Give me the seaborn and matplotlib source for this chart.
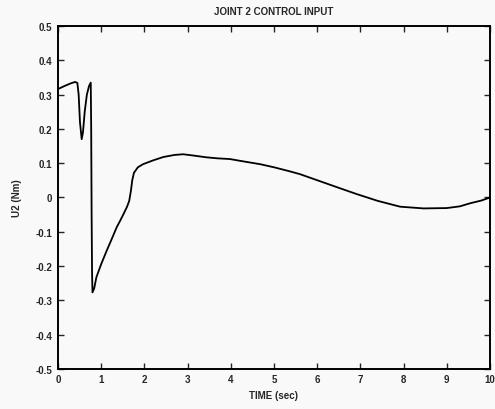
import numpy as np
import pandas as pd
import matplotlib
matplotlib.use("Agg")
import matplotlib.pyplot as plt
import seaborn as sns

# joint 2 control input
time_s = [0.0, 0.15, 0.30, 0.40, 0.45, 0.48, 0.51, 0.55, 0.58, 0.62, 0.67, 0.72, 0.76,
          0.77, 0.78, 0.79, 0.80, 0.84, 0.89, 1.00, 1.13, 1.25, 1.36, 1.44, 1.52, 1.60,
          1.65, 1.69, 1.72, 1.76, 1.85, 1.97, 2.20, 2.44, 2.70, 2.90, 3.15, 3.44, 3.70,
          3.98, 4.30, 4.68, 5.00, 5.37, 5.60, 6.14, 6.50, 6.91, 7.40, 7.92, 8.46, 9.00,
          9.30, 9.54, 9.80, 10.0]
u2_nm = [0.316, 0.325, 0.333, 0.337, 0.334, 0.30, 0.22, 0.170, 0.19, 0.25, 0.30, 0.325, 0.335,
         0.20, -0.05, -0.22, -0.277, -0.265, -0.233, -0.195, -0.155, -0.12, -0.087, -0.068,
         -0.048, -0.027, -0.010, 0.020, 0.050, 0.072, 0.088, 0.097, 0.108, 0.118, 0.124,
         0.126, 0.122, 0.117, 0.114, 0.112, 0.105, 0.097, 0.088, 0.076, 0.068, 0.044,
         0.028, 0.010, -0.010, -0.027, -0.032, -0.031, -0.026, -0.017, -0.009, 0.0]

x_ticks = list(range(0, 11))
y_ticks = [-0.5, -0.4, -0.3, -0.2, -0.1, 0, 0.1, 0.2, 0.3, 0.4, 0.5]
y_tick_labels = ["-0.5", "-0.4", "-0.3", "-0.2", "-0.1", "0", "0.1", "0.2", "0.3", "0.4", "0.5"]

df = pd.DataFrame({"t": time_s, "u2": u2_nm})

sns.set_style("ticks")
plt.rcParams["font.family"] = ["Liberation Sans", "DejaVu Sans"]
plt.rcParams["font.weight"] = "bold"

fig = plt.figure(figsize=(4.95, 4.1), dpi=100, facecolor="#f9f9f9")
ax = fig.add_axes([0.117, 0.098, 0.873, 0.836])
ax.set_facecolor("#f9f9f9")

sns.lineplot(data=df, x="t", y="u2", ax=ax, color="black", linewidth=1.3, sort=False)

ax.set_xlim(0, 10)
ax.set_ylim(-0.5, 0.5)
ax.set_xticks(x_ticks)
ax.set_yticks(y_ticks)
ax.set_yticklabels(y_tick_labels)
ax.tick_params(direction="in", top=True, right=True, length=4, width=1, labelsize=7, pad=4)
for s in ax.spines.values():
    s.set_linewidth(1.4)
    s.set_color("black")

ax.set_title("JOINT 2 CONTROL INPUT", fontsize=7, fontweight="bold", pad=9)
ax.set_xlabel("TIME (sec)", fontsize=7, fontweight="bold", labelpad=4)
ax.set_ylabel("U2 (Nm)", fontsize=7, fontweight="bold", labelpad=10)

fig.savefig("out.png", dpi=100, facecolor=fig.get_facecolor())
